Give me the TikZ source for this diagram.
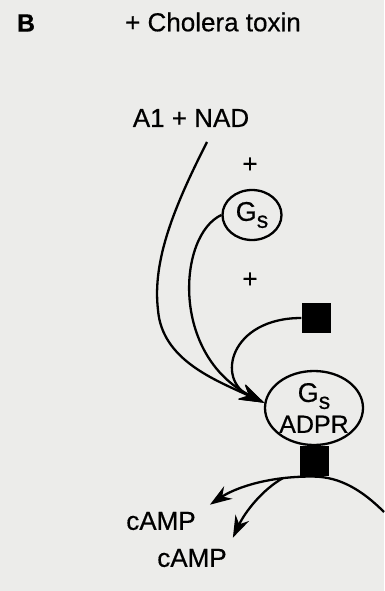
\documentclass[tikz,border=0pt]{standalone}
\usepackage{fontspec}
\setmainfont{Liberation Sans}[FakeBold=0.5,BoldFont={Liberation Sans Bold}]
\newfontfamily\scanfont{Liberation Sans}[FakeBold=0.5]
\definecolor{paper}{RGB}{236,236,234}
\tikzstyle{lbl}=[inner sep=2pt,font=\scanfont\fontsize{26}{29}\selectfont]
\tikzstyle{prot}=[ellipse,line width=2.3pt,draw=black,
inner sep=-6pt,align=center,font=\scanfont\fontsize{25}{28}\selectfont]
\tikzstyle{blk}=[rectangle,fill=black,inner sep=0pt,
minimum width=29pt,minimum height=30pt]
\tikzstyle{conn}=[line width=2.3pt]
\newcommand{\Gsub}{{\fontsize{27}{28}\selectfont G}\raisebox{-7pt}{\fontsize{23}{23}\selectfont s}}
\usetikzlibrary{arrows.meta,positioning,shapes}

\begin{document}
\begin{tikzpicture}[x=1pt,y=-1pt,>={Stealth[length=25pt,width=16pt]}]
            \path[use as bounding box,fill=paper] (0,0) rectangle (384,591);

            % TITLE PART

            \node[lbl,font=\fontsize{25}{28}\selectfont\bfseries] (b) at (26,23) {B};
            \node[lbl] (toxin) at (213,22) {+ Cholera toxin};

            % INPUT PART

            \node[lbl] (nad) at (191,118) {A1 + NAD};
            \node[lbl] (plus1) at (250,165) {+};
            \node[prot,minimum width=59pt,minimum height=50pt] (gs) at (252,215) {\Gsub};
            \node[lbl] (plus2) at (250,280) {+};
            \node[blk] (sq1) at (316,318) {};
            \node[prot,minimum width=98pt,minimum height=74pt] (adpr) at (314,408) {\Gsub\\[3pt]ADPR};
            \node[blk,below=0pt of adpr] (sq2) {};

            \coordinate (nadout) at (207,142);
            \draw[conn,->] (nadout) .. controls (175,205) and (152,260) .. (158,310)
                .. controls (162,360) and (215,380) .. (adpr.174);
            \draw[conn,->] (gs.west) .. controls (178,235) and (170,355) .. (adpr.174);
            \draw[conn,->] (sq1.west) .. controls (230,318) and (215,380) .. (adpr.174);

            % OUTPUT PART

            \node[lbl] (camp1) at (161,521) {cAMP};
            \node[lbl] (camp2) at (192,558) {cAMP};

            \coordinate (arcout) at (384,512);
            \coordinate (branch) at (283,478);
            \draw[conn] (arcout) .. controls (362,490) and (340,477) .. (sq2.south);
            \draw[conn,-{Stealth[length=22pt,width=15pt]}] (sq2.south) .. controls (268,476) and (235,488) .. ([xshift=12pt,yshift=5pt]camp1.north east);
            \draw[conn,-{Stealth[length=22pt,width=15pt]}] (branch) .. controls (262,490) and (245,512) .. ([xshift=4pt,yshift=9pt]camp2.north east);

        \end{tikzpicture}
\end{document}
